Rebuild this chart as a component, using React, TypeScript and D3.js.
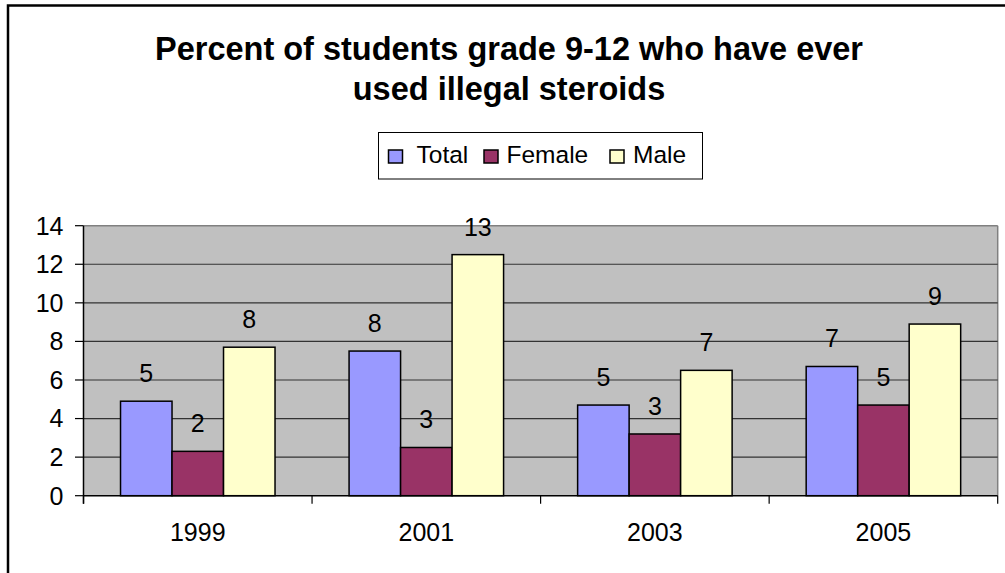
import React from "react";
import * as d3 from "d3";

const categories = ["1999", "2001", "2003", "2005"];
const seriesNames = ["Total", "Female", "Male"];
const totalValues = [4.9, 7.5, 4.7, 6.7];
const femaleValues = [2.3, 2.5, 3.2, 4.7];
const maleValues = [7.7, 12.5, 6.5, 8.9];
const yTicks = [0, 2, 4, 6, 8, 10, 12, 14];
const titleLines = ["Percent of students grade 9-12 who have ever", "used illegal steroids"];
const colors = ["#9999FF", "#993366", "#FFFFCC"];

const W = 1005;
const H = 573;
const plotL = 83.5;
const plotR = 997.7;
const plotT = 225.7;
const plotB = 495.7;
const FONT = "Arial, 'Liberation Sans', sans-serif";

export default function App() {
  const seriesValues = [totalValues, femaleValues, maleValues];
  const x = d3.scaleBand<string>().domain(categories).range([plotL, plotR]).paddingInner(0.324).paddingOuter(0.162);
  const xs = d3.scaleBand<string>().domain(seriesNames).range([0, x.bandwidth()]);
  const y = d3.scaleLinear().domain([0, 14]).range([plotB, plotT]);
  const step = x.step();
  const boundaries = d3.range(categories.length + 1).map((i) => plotL + i * step);

  const legendItems = [
    { name: "Total", sx: 388.5, tx: 416.5 },
    { name: "Female", sx: 484, tx: 506.5 },
    { name: "Male", sx: 610, tx: 633 },
  ];

  return (
    <svg width={W} height={H} style={{ position: "absolute", left: 0, top: 0 }} fontFamily={FONT}>
      <rect x={0} y={0} width={W} height={H} fill="#fff" />
      <rect x={8} y={5.5} width={1100} height={700} fill="#fff" stroke="#000" strokeWidth={2.5} />
      {titleLines.map((t, i) => (
        <text key={i} x={509} y={60 + i * 40} textAnchor="middle" fontSize={32.5} fontWeight="bold" fill="#000">
          {t}
        </text>
      ))}
      <rect x={378.5} y={132.5} width={324} height={46.5} fill="#fff" stroke="#000" strokeWidth={1} />
      {legendItems.map((it, i) => (
        <g key={it.name}>
          <rect x={it.sx} y={150} width={14} height={13} fill={colors[i]} stroke="#000" strokeWidth={1.5} />
          <text x={it.tx} y={163} fontSize={24.5} fill="#000">
            {it.name}
          </text>
        </g>
      ))}
      <rect x={plotL} y={plotT} width={plotR - plotL} height={plotB - plotT} fill="#C0C0C0" />
      <line x1={plotL} x2={plotR} y1={plotT} y2={plotT} stroke="#808080" strokeWidth={1.5} />
      <line x1={plotR} x2={plotR} y1={plotT} y2={plotB} stroke="#808080" strokeWidth={1.5} />
      {yTicks.filter((v) => v > 0 && v < 14).map((v) => (
        <line key={v} x1={plotL} x2={plotR} y1={y(v)} y2={y(v)} stroke="#333" strokeWidth={1.2} />
      ))}
      {categories.map((c, ci) =>
        seriesNames.map((s, si) => {
          const v = seriesValues[si][ci];
          const bx = (x(c) as number) + (xs(s) as number);
          return (
            <g key={c + s}>
              <rect x={bx} y={y(v)} width={xs.bandwidth()} height={plotB - y(v)} fill={colors[si]} stroke="#000" strokeWidth={1.5} />
              <text x={bx + xs.bandwidth() / 2} y={y(v) - 19} textAnchor="middle" fontSize={25} fill="#000">
                {Math.round(v)}
              </text>
            </g>
          );
        })
      )}
      <line x1={plotL} x2={plotL} y1={plotT} y2={plotB + 8} stroke="#000" strokeWidth={1.5} />
      <line x1={plotL} x2={plotR} y1={plotB} y2={plotB} stroke="#000" strokeWidth={1.5} />
      {yTicks.map((v) => (
        <g key={v}>
          <line x1={75} x2={plotL} y1={y(v)} y2={y(v)} stroke="#000" strokeWidth={1.2} />
          <text x={63.5} y={y(v) + 8.8} textAnchor="end" fontSize={25} fill="#000">
            {v}
          </text>
        </g>
      ))}
      {boundaries.map((bx, i) => (
        <line key={i} x1={bx} x2={bx} y1={plotB} y2={plotB + 8} stroke="#000" strokeWidth={1.2} />
      ))}
      {categories.map((c) => (
        <text key={c} x={(x(c) as number) + x.bandwidth() / 2} y={541} textAnchor="middle" fontSize={25} fill="#000">
          {c}
        </text>
      ))}
    </svg>
  );
}
